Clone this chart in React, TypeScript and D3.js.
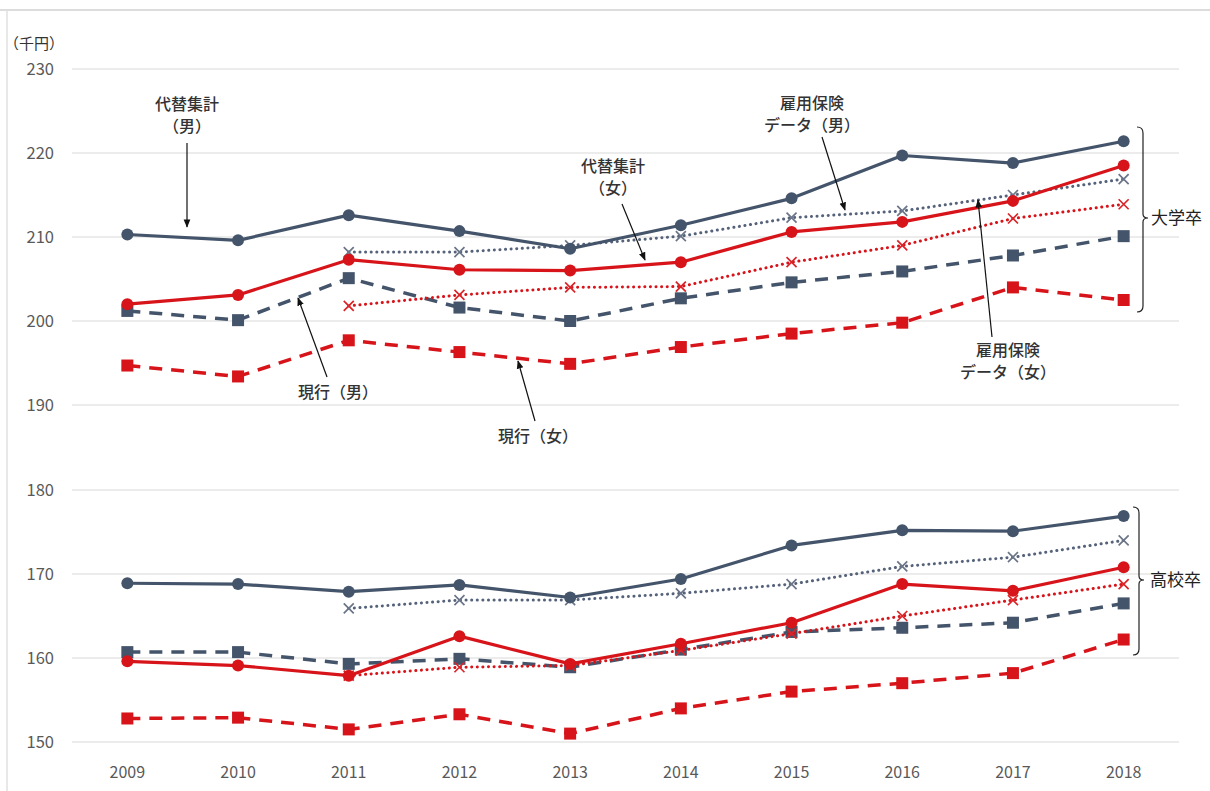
import React from "react";
import * as d3 from "d3";

const years = [2009, 2010, 2011, 2012, 2013, 2014, 2015, 2016, 2017, 2018];
const upperTicks = [190, 200, 210, 220, 230];
const lowerTicks = [150, 160, 170, 180];

// 大学卒
const altMaleU = [210.3, 209.6, 212.6, 210.7, 208.6, 211.4, 214.6, 219.7, 218.8, 221.4];
const altFemaleU = [202.0, 203.1, 207.3, 206.1, 206.0, 207.0, 210.6, 211.8, 214.3, 218.5];
const eiMaleU = [null, null, 208.2, 208.2, 209.0, 210.1, 212.3, 213.1, 215.0, 216.9];
const eiFemaleU = [null, null, 201.8, 203.1, 204.0, 204.1, 207.0, 209.0, 212.2, 213.9];
const curMaleU = [201.2, 200.1, 205.1, 201.6, 200.0, 202.7, 204.6, 205.9, 207.8, 210.1];
const curFemaleU = [194.7, 193.4, 197.7, 196.3, 194.9, 196.9, 198.5, 199.8, 204.0, 202.5];

// 高校卒
const altMaleH = [168.9, 168.8, 167.9, 168.7, 167.2, 169.4, 173.4, 175.2, 175.1, 176.9];
const altFemaleH = [159.6, 159.1, 157.9, 162.6, 159.3, 161.7, 164.2, 168.8, 168.0, 170.8];
const eiMaleH = [null, null, 165.9, 166.9, 166.9, 167.7, 168.8, 170.9, 172.0, 174.0];
const eiFemaleH = [null, null, 157.9, 158.9, 159.1, 160.9, 162.9, 165.0, 166.9, 168.8];
const curMaleH = [160.7, 160.7, 159.3, 159.9, 158.9, 161.0, 163.1, 163.6, 164.2, 166.5];
const curFemaleH = [152.8, 152.9, 151.5, 153.3, 151.0, 154.0, 156.0, 157.0, 158.2, 162.2];

const SLATE = "#44546A";
const RED = "#D7141A";
const FONT = "'Noto Sans CJK JP', 'Noto Sans', sans-serif";

type Kind = "alt" | "ei" | "cur";
interface Series {
  values: (number | null)[];
  color: string;
  kind: Kind;
  part: "u" | "h";
}

const series: Series[] = [
  { values: curFemaleU, color: RED, kind: "cur", part: "u" },
  { values: curMaleU, color: SLATE, kind: "cur", part: "u" },
  { values: eiFemaleU, color: RED, kind: "ei", part: "u" },
  { values: eiMaleU, color: SLATE, kind: "ei", part: "u" },
  { values: altFemaleU, color: RED, kind: "alt", part: "u" },
  { values: altMaleU, color: SLATE, kind: "alt", part: "u" },
  { values: curFemaleH, color: RED, kind: "cur", part: "h" },
  { values: curMaleH, color: SLATE, kind: "cur", part: "h" },
  { values: eiFemaleH, color: RED, kind: "ei", part: "h" },
  { values: eiMaleH, color: SLATE, kind: "ei", part: "h" },
  { values: altFemaleH, color: RED, kind: "alt", part: "h" },
  { values: altMaleH, color: SLATE, kind: "alt", part: "h" },
];

const x = d3.scaleBand<number>().domain(years).range([72, 1179]);
const cx = (yr: number) => (x(yr) as number) + x.bandwidth() / 2;
const yU = d3.scaleLinear().domain([190, 230]).range([405, 69]);
const yH = d3.scaleLinear().domain([150, 180]).range([742, 490]);

function Arrow({ x1, y1, x2, y2 }: { x1: number; y1: number; x2: number; y2: number }) {
  return <line x1={x1} y1={y1} x2={x2} y2={y2} stroke="#111" strokeWidth={1.2} markerEnd="url(#arr)" />;
}

function Label({ x0, y0, lines }: { x0: number; y0: number; lines: string[] }) {
  return (
    <g>
      {lines.map((l, i) => (
        <text key={i} x={x0} y={y0 + i * 22} textAnchor="middle" fontFamily={FONT} fontSize={16} fill="#333" fontWeight={500}>
          {l}
        </text>
      ))}
    </g>
  );
}

function brace(x0: number, x1: number, top: number, mid: number, bot: number) {
  return `M${x0},${top} Q${x1},${top} ${x1},${top + 6} L${x1},${mid - 4} Q${x1},${mid} ${x1 + 5},${mid} Q${x1},${mid} ${x1},${mid + 4} L${x1},${bot - 6} Q${x1},${bot} ${x0},${bot}`;
}

export default function App() {
  return (
    <svg width={1210} height={791} style={{ position: "absolute", left: 0, top: 0, background: "#fff" }}>
      <defs>
        <marker id="arr" viewBox="0 0 10 10" refX={9} refY={5} markerWidth={7} markerHeight={7} orient="auto-start-reverse">
          <path d="M0,1 L10,5 L0,9 z" fill="#111" />
        </marker>
      </defs>
      <line x1={0} x2={1210} y1={10} y2={10} stroke="#d0d0d0" strokeWidth={1.5} />
      <line x1={7} x2={7} y1={10} y2={791} stroke="#e0e0e0" strokeWidth={1.5} />

      <text x={4} y={49} fontFamily={FONT} fontSize={15} fill="#333">（千円）</text>

      {upperTicks.map((t) => (
        <g key={"u" + t}>
          <line x1={72} x2={1179} y1={yU(t)} y2={yU(t)} stroke="#d9d9d9" strokeWidth={1.2} />
          <text x={54} y={yU(t)} dy="0.35em" textAnchor="end" fontFamily={FONT} fontSize={16.5} fill="#595959">{t}</text>
        </g>
      ))}
      {lowerTicks.map((t) => (
        <g key={"h" + t}>
          <line x1={72} x2={1179} y1={yH(t)} y2={yH(t)} stroke="#d9d9d9" strokeWidth={1.2} />
          <text x={54} y={yH(t)} dy="0.35em" textAnchor="end" fontFamily={FONT} fontSize={16.5} fill="#595959">{t}</text>
        </g>
      ))}
      {years.map((yr) => (
        <text key={yr} x={cx(yr)} y={772} dy="0.35em" textAnchor="middle" fontFamily={FONT} fontSize={16} fill="#595959">{yr}</text>
      ))}

      {series.map((s, i) => {
        const ys = s.part === "u" ? yU : yH;
        const line = d3
          .line<number | null>()
          .defined((v) => v !== null)
          .x((_, j) => cx(years[j]))
          .y((v) => ys(v as number));
        const dash = s.kind === "cur" ? "13 9" : s.kind === "ei" ? "0.1 5.5" : undefined;
        const sw = s.kind === "alt" ? 3.2 : s.kind === "cur" ? 3.5 : 3;
        const stroke = s.kind === "ei" && s.color === SLATE ? "#55627a" : s.color;
        return (
          <g key={i}>
            <path d={line(s.values) || ""} fill="none" stroke={stroke} strokeWidth={sw} strokeDasharray={dash} strokeLinecap={s.kind === "ei" ? "round" : "butt"} strokeLinejoin="round" />
            {s.values.map((v, j) => {
              if (v === null) return null;
              const px = cx(years[j]);
              const py = ys(v);
              if (s.kind === "alt") return <circle key={j} cx={px} cy={py} r={6} fill={s.color} />;
              if (s.kind === "cur") return <rect key={j} x={px - 6} y={py - 6} width={12} height={12} fill={s.color} />;
              const c = s.color === SLATE ? "#6b7588" : "#d9252a";
              return (
                <path key={j} d={`M${px - 5},${py - 5}L${px + 5},${py + 5}M${px - 5},${py + 5}L${px + 5},${py - 5}`} stroke={c} strokeWidth={1.7} />
              );
            })}
          </g>
        );
      })}

      <Label x0={187} y0={110} lines={["代替集計", "（男）"]} />
      <Arrow x1={187} y1={143} x2={187} y2={227} />

      <Label x0={338} y0={398} lines={["現行（男）"]} />
      <Arrow x1={327} y1={377} x2={298} y2={298} />

      <Label x0={538} y0={442} lines={["現行（女）"]} />
      <Arrow x1={535} y1={421} x2={518} y2={361} />

      <Label x0={613} y0={172} lines={["代替集計", "（女）"]} />
      <Arrow x1={622} y1={204} x2={645} y2={260} />

      <Label x0={812} y0={109} lines={["雇用保険", "データ（男）"]} />
      <Arrow x1={822} y1={137} x2={845} y2={210} />

      <Label x0={1008} y0={356} lines={["雇用保険", "データ（女）"]} />
      <Arrow x1={992} y1={337} x2={978} y2={200} />

      <path d={brace(1137, 1143, 127, 218, 312)} fill="none" stroke="#222" strokeWidth={1.2} />
      <text x={1151} y={218} dy="0.35em" fontFamily={FONT} fontSize={17} fill="#222">大学卒</text>
      <path d={brace(1133, 1139, 507, 580, 655)} fill="none" stroke="#222" strokeWidth={1.2} />
      <text x={1150} y={580} dy="0.35em" fontFamily={FONT} fontSize={17} fill="#222">高校卒</text>
    </svg>
  );
}
